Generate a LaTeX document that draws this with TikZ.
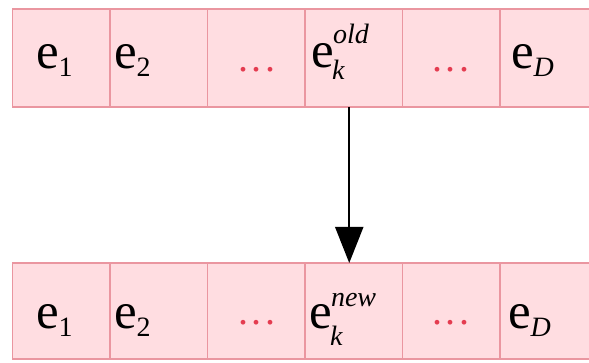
\documentclass[tikz,border=0pt]{standalone}
\usepackage{fontspec}
\setmainfont{Liberation Serif}
\usetikzlibrary{arrows.meta}
\definecolor{cellfill}{RGB}{255,221,225}
\definecolor{cellline}{RGB}{234,150,160}
\definecolor{dotred}{RGB}{228,60,80}
\newcommand{\ebig}{\fontsize{51}{51}\selectfont e}
\newcommand{\scr}{\fontsize{28}{28}\selectfont}
\newcommand{\dotsred}{\textcolor{dotred}{\fontsize{40}{40}\selectfont .\kern3.5pt.\kern3.5pt.}}
\begin{document}
\begin{tikzpicture}[x=1pt,y=-1pt,
  cell/.style={draw=cellline, fill=cellfill, line width=1.5pt, inner sep=0pt, outer sep=0pt,
    minimum width=97.5pt},
  toprow/.style={cell, minimum height=98pt},
  botrow/.style={cell, minimum height=96pt},
  lab/.style={anchor=base west, inner sep=0pt, outer sep=0pt},
  dotlab/.style={anchor=base, inner sep=0pt, outer sep=0pt}]
\useasboundingbox (0,0) rectangle (589,363);
\clip (0,0) rectangle (589,363);
% top row
\node[toprow] (t1) at (61,58) {};
\node[toprow] (t2) at (158.75,58) {};
\node[toprow] (t3) at (256.25,58) {};
\node[toprow] (t4) at (353.75,58) {};
\node[toprow] (t5) at (451.25,58) {};
\node[toprow] (t6) at (548.75,58) {};
% bottom row
\node[botrow] (b1) at (61,311) {};
\node[botrow] (b2) at (158.75,311) {};
\node[botrow] (b3) at (256.25,311) {};
\node[botrow] (b4) at (353.75,311) {};
\node[botrow] (b5) at (451.25,311) {};
\node[botrow] (b6) at (548.75,311) {};
% top labels
\node[lab] (lt1) at (36,69) {\ebig\raisebox{-8pt}{\scr 1}};
\node[lab] (lt2) at (114,69) {\ebig\raisebox{-8pt}{\scr 2}};
\node[dotlab] (lt3) at (257,72) {\dotsred};
\node[lab] (lt4) at (311,68) {\ebig};
\node[lab] (lt4sup) at (333,44) {\scr\itshape old};
\node[lab] (lt4sub) at (332,80) {\scr\itshape k};
\node[dotlab] (lt5) at (451,72) {\dotsred};
\node[lab] (lt6) at (511,69) {\ebig\raisebox{-8pt}{\scr\itshape D}};
% bottom labels
\node[lab] (lb1) at (36,328) {\ebig\raisebox{-8pt}{\scr 1}};
\node[lab] (lb2) at (114,328) {\ebig\raisebox{-8pt}{\scr 2}};
\node[dotlab] (lb3) at (257,325) {\dotsred};
\node[lab] (lb4) at (309,328) {\ebig};
\node[lab] (lb4sup) at (331,307) {\scr\itshape new};
\node[lab] (lb4sub) at (330,345) {\scr\itshape k};
\node[dotlab] (lb5) at (451,325) {\dotsred};
\node[lab] (lb6) at (508,328) {\ebig\raisebox{-8pt}{\scr\itshape D}};
% arrow
\draw[line width=2pt, -{Triangle[length=36pt,width=28pt]}]
  ([xshift=-4.5pt]t4.south) -- ([xshift=-4.5pt]b4.north);
\end{tikzpicture}
\end{document}
